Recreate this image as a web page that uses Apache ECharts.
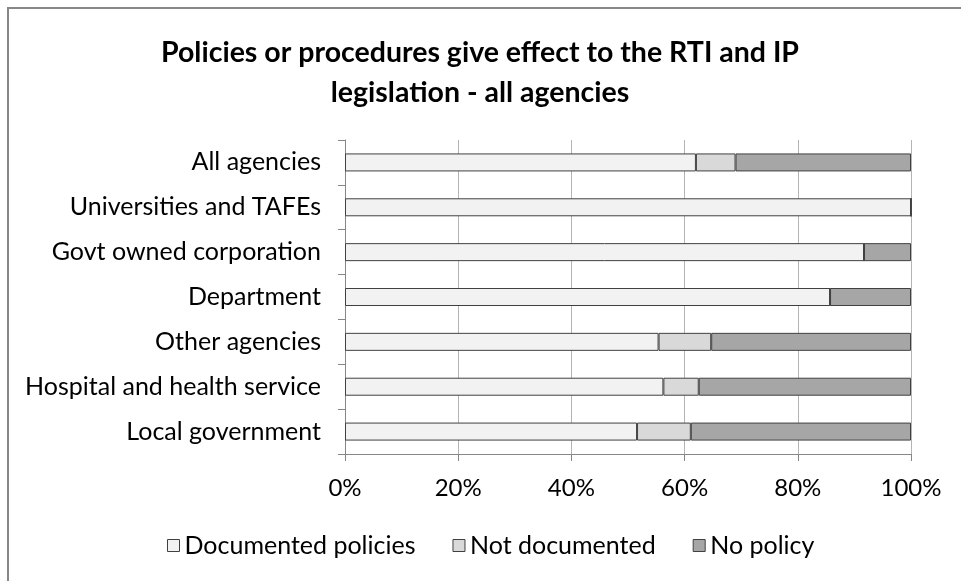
<!DOCTYPE html>
<html>
<head>
<meta charset="utf-8">
<script src="https://cdn.jsdelivr.net/npm/echarts@6/dist/echarts.min.js"></script>
<style>
  html, body { margin: 0; padding: 0; background: #ffffff; }
  #chart { width: 961px; height: 581px; }
</style>
</head>
<body>
<div id="chart"></div>
<script>
// Agency groups, top to bottom
const categories = [
  'All agencies',
  'Universities and TAFEs',
  'Govt owned corporation',
  'Department',
  'Other agencies',
  'Hospital and health service',
  'Local government'
];

// Share of agencies in each group (percent)
const documentedPolicies = [62.0, 100.0, 91.7, 85.7, 55.4, 56.25, 51.6];
const notDocumented      = [7.0, 0.0, 0.0, 0.0, 9.3, 6.25, 9.5];
const noPolicy           = [31.0, 0.0, 8.3, 14.3, 35.3, 37.5, 38.9];

const seriesNames = ['Documented policies', 'Not documented', 'No policy'];
const xTicks = [0, 20, 40, 60, 80, 100];

const FONT = 'Lato';
const fills = ['#f2f2f2', '#d9d9d9', '#a6a6a6'];
const edge = '#404040';
const axisGrey = '#868686';

const chart = echarts.init(document.getElementById('chart'), null, { renderer: 'canvas' });

const values = [documentedPolicies, notDocumented, noPolicy];

chart.setOption({
  animation: false,
  backgroundColor: '#ffffff',
  textStyle: { fontFamily: FONT },
  // chart-area frame
  graphic: [{
    type: 'rect',
    shape: { x: 8, y: 8, width: 1000, height: 1000 },
    style: { fill: 'none', stroke: '#878787', lineWidth: 2 },
    silent: true,
    z: -1
  }],
  title: {
    text: 'Policies or procedures give effect to the RTI and IP\nlegislation - all agencies',
    left: 475,
    top: 28,
    textAlign: 'center',
    textStyle: {
      fontFamily: FONT,
      fontWeight: 'bold',
      fontSize: 28.5,
      lineHeight: 40,
      color: '#000000'
    }
  },
  legend: {
    data: seriesNames,
    left: 162,
    top: 528,
    itemWidth: 12,
    itemHeight: 12,
    itemGap: 37,
    icon: 'rect',
    textStyle: { fontFamily: FONT, fontSize: 25, color: '#000000', padding: [0, 0, 0, 0] },
    itemStyle: { borderColor: edge, borderWidth: 1 }
  },
  grid: {
    left: 345,
    right: 50,
    top: 140,
    bottom: 127,
    containLabel: false
  },
  xAxis: {
    type: 'value',
    min: xTicks[0],
    max: xTicks[xTicks.length - 1],
    interval: 20,
    axisLine: { show: true, lineStyle: { color: axisGrey, width: 1 } },
    axisTick: { show: true, length: 7, lineStyle: { color: axisGrey } },
    splitLine: { show: true, lineStyle: { color: '#b4b4b4', width: 1 } },
    axisLabel: {
      formatter: v => v + '%',
      fontFamily: FONT,
      fontSize: 24,
      color: '#000000',
      margin: 22
    }
  },
  yAxis: {
    type: 'category',
    data: categories,
    inverse: true,
    axisLine: { show: true, lineStyle: { color: axisGrey, width: 1 } },
    axisTick: { show: true, length: 7, lineStyle: { color: axisGrey } },
    axisLabel: {
      fontFamily: FONT,
      fontSize: 25,
      color: '#000000',
      margin: 24
    }
  },
  series: seriesNames.map((name, i) => ({
    name: name,
    type: 'bar',
    stack: 'share',
    barWidth: 18,
    data: values[i],
    itemStyle: { color: fills[i], borderColor: edge, borderWidth: 1 }
  }))
});
</script>
</body>
</html>
